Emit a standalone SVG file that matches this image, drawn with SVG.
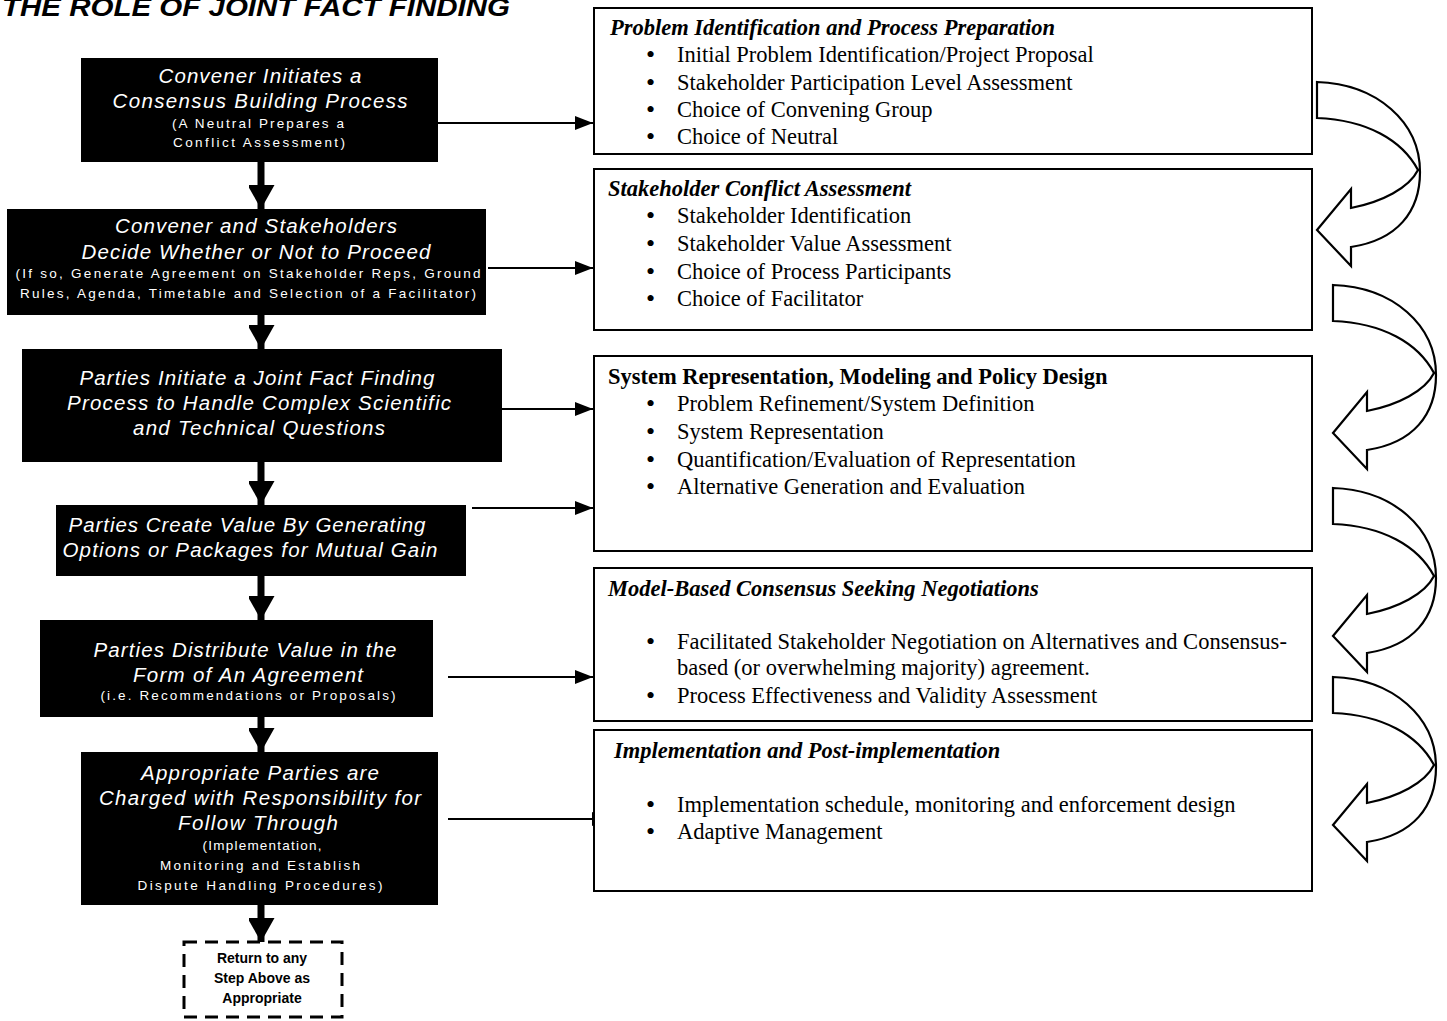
<svg xmlns="http://www.w3.org/2000/svg" width="1447" height="1021" viewBox="0 0 1447 1021">
  <style>
    .step { fill: #000; }
    .st { font-family: "Liberation Sans", Arial, sans-serif; font-style: italic; font-size: 20.5px; fill: #fff; text-anchor: middle; }
    .ss { font-family: "Liberation Sans", Arial, sans-serif; font-size: 13.5px; fill: #fff; text-anchor: middle; }
    .panel { fill: #fff; stroke: #000; stroke-width: 2; }
    .ph { font-family: "Liberation Serif", "Times New Roman", serif; font-weight: bold; font-style: italic; font-size: 22.5px; fill: #000; }
    .phu { font-family: "Liberation Serif", "Times New Roman", serif; font-weight: bold; font-size: 22.5px; fill: #000; }
    .pt { font-family: "Liberation Serif", "Times New Roman", serif; font-size: 22.5px; fill: #000; }
    .bul { font-family: "Liberation Serif", "Times New Roman", serif; font-size: 26px; fill: #000; }
    .link { stroke: #000; stroke-width: 2; fill: none; }
    .down { stroke: #000; stroke-width: 7; fill: none; }
    .uturn { fill: #fff; stroke: #000; stroke-width: 2.2; stroke-linejoin: miter; }
    .ret { font-family: "Liberation Sans", Arial, sans-serif; font-weight: bold; font-size: 14px; fill: #000; text-anchor: middle; }
  </style>
  <defs>
    <marker id="side" markerUnits="userSpaceOnUse" markerWidth="20" markerHeight="14" refX="18" refY="7" orient="auto">
      <path d="M0,0 L18,7 L0,14 Z" fill="#000"/>
    </marker>
    <marker id="drop" markerUnits="userSpaceOnUse" markerWidth="28" markerHeight="26" refX="24" refY="13.5" orient="auto">
      <path d="M0,0 L24,13.5 L0,27 Z" fill="#000"/>
    </marker>
    <!-- curved block arrow: tail at upper left, head pointing left below -->
    <path id="turn" d="M0,0 C60,2 103,40 103,90 C103,130 80,158 34,165 L34,184 L0,148 L34,107 L34,126 C65,120 92,106 101,88 C85,58 50,38 0,36 Z"/>
  </defs>

  <rect width="1447" height="1021" fill="#fff"/>

  <text x="2" y="16" font-family="Liberation Sans, Arial, sans-serif" font-weight="bold" font-style="italic" font-size="26" textLength="508" lengthAdjust="spacingAndGlyphs">THE ROLE OF JOINT FACT FINDING</text>

  <!-- connectors -->
  <g id="connectors">
    <line class="down" x1="261" y1="162" x2="261" y2="209" marker-end="url(#drop)"/>
    <line class="down" x1="261" y1="315" x2="261" y2="349" marker-end="url(#drop)"/>
    <line class="down" x1="261" y1="462" x2="261" y2="505" marker-end="url(#drop)"/>
    <line class="down" x1="261" y1="576" x2="261" y2="620" marker-end="url(#drop)"/>
    <line class="down" x1="261" y1="717" x2="261" y2="752" marker-end="url(#drop)"/>
    <line class="down" x1="261" y1="905" x2="261" y2="942" marker-end="url(#drop)"/>

    <line class="link" x1="438" y1="123" x2="593" y2="123" marker-end="url(#side)"/>
    <line class="link" x1="488" y1="268" x2="593" y2="268" marker-end="url(#side)"/>
    <line class="link" x1="502" y1="409" x2="593" y2="409" marker-end="url(#side)"/>
    <line class="link" x1="472" y1="508" x2="593" y2="508" marker-end="url(#side)"/>
    <line class="link" x1="448" y1="677" x2="593" y2="677" marker-end="url(#side)"/>
    <line class="link" x1="448" y1="819" x2="610" y2="819" marker-end="url(#side)"/>

    <use href="#turn" class="uturn" transform="translate(1317,82)"/>
    <use href="#turn" class="uturn" transform="translate(1333,285)"/>
    <use href="#turn" class="uturn" transform="translate(1333,488)"/>
    <use href="#turn" class="uturn" transform="translate(1333,677)"/>
  </g>

  <!-- process steps -->
  <g id="step-convene">
    <rect class="step" x="81" y="58" width="357" height="104"/>
    <text class="st" x="260" y="83" textLength="203">Convener Initiates a</text>
    <text class="st" x="260" y="108" textLength="295">Consensus Building Process</text>
    <text class="ss" x="258" y="128" textLength="172">(A Neutral Prepares a</text>
    <text class="ss" x="259" y="147" textLength="172">Conflict Assessment)</text>
  </g>

  <g id="step-decide">
    <rect class="step" x="7" y="209" width="479" height="106"/>
    <text class="st" x="256" y="233" textLength="282">Convener and Stakeholders</text>
    <text class="st" x="256" y="259" textLength="349">Decide Whether or Not to Proceed</text>
    <text class="ss" x="248" y="278" textLength="465">(If so, Generate Agreement on Stakeholder Reps, Ground</text>
    <text class="ss" x="248" y="298" textLength="456">Rules, Agenda, Timetable and Selection of a Facilitator)</text>
  </g>

  <g id="step-jff">
    <rect class="step" x="22" y="349" width="480" height="113"/>
    <text class="st" x="257" y="385" textLength="355">Parties Initiate a Joint Fact Finding</text>
    <text class="st" x="259" y="410" textLength="384">Process to Handle Complex Scientific</text>
    <text class="st" x="259" y="435" textLength="252">and Technical Questions</text>
  </g>

  <g id="step-create">
    <rect class="step" x="56" y="505" width="410" height="71"/>
    <text class="st" x="247" y="532" textLength="357">Parties Create Value By Generating</text>
    <text class="st" x="250" y="557" textLength="375">Options or Packages for Mutual Gain</text>
  </g>

  <g id="step-distribute">
    <rect class="step" x="40" y="620" width="393" height="97"/>
    <text class="st" x="245" y="657" textLength="303">Parties Distribute Value in the</text>
    <text class="st" x="248" y="682" textLength="230">Form of An Agreement</text>
    <text class="ss" x="248" y="700" textLength="295">(i.e. Recommendations or Proposals)</text>
  </g>

  <g id="step-follow">
    <rect class="step" x="81" y="752" width="357" height="153"/>
    <text class="st" x="260" y="780" textLength="238">Appropriate Parties are</text>
    <text class="st" x="260" y="805" textLength="322">Charged with Responsibility for</text>
    <text class="st" x="258" y="830" textLength="160">Follow Through</text>
    <text class="ss" x="262" y="850" textLength="119">(Implementation,</text>
    <text class="ss" x="260" y="870" textLength="200">Monitoring and Establish</text>
    <text class="ss" x="260" y="890" textLength="245">Dispute Handling Procedures)</text>
  </g>

  <g id="step-return">
    <rect x="184" y="942" width="158" height="75" fill="#fff" stroke="#000" stroke-width="3" stroke-dasharray="13,8"/>
    <text class="ret" x="262" y="963">Return to any</text>
    <text class="ret" x="262" y="983">Step Above as</text>
    <text class="ret" x="262" y="1003">Appropriate</text>
  </g>

  <!-- activity panels -->
  <g id="panel-preparation">
    <rect class="panel" x="594" y="8" width="718" height="146"/>
    <text class="ph" x="610" y="35">Problem Identification and Process Preparation</text>
    <text class="bul" x="646" y="63">•</text><text class="pt" x="677" y="62">Initial Problem Identification/Project Proposal</text>
    <text class="bul" x="646" y="91">•</text><text class="pt" x="677" y="90">Stakeholder Participation Level Assessment</text>
    <text class="bul" x="646" y="118">•</text><text class="pt" x="677" y="117">Choice of Convening Group</text>
    <text class="bul" x="646" y="145">•</text><text class="pt" x="677" y="144">Choice of Neutral</text>
  </g>

  <g id="panel-assessment">
    <rect class="panel" x="594" y="169" width="718" height="161"/>
    <text class="ph" x="608" y="196">Stakeholder Conflict Assessment</text>
    <text class="bul" x="646" y="224">•</text><text class="pt" x="677" y="223">Stakeholder Identification</text>
    <text class="bul" x="646" y="252">•</text><text class="pt" x="677" y="251">Stakeholder Value Assessment</text>
    <text class="bul" x="646" y="280">•</text><text class="pt" x="677" y="279">Choice of Process Participants</text>
    <text class="bul" x="646" y="307">•</text><text class="pt" x="677" y="306">Choice of Facilitator</text>
  </g>

  <g id="panel-modeling">
    <rect class="panel" x="594" y="356" width="718" height="195"/>
    <text class="phu" x="608" y="384">System Representation, Modeling and Policy Design</text>
    <text class="bul" x="646" y="412">•</text><text class="pt" x="677" y="411">Problem Refinement/System Definition</text>
    <text class="bul" x="646" y="440">•</text><text class="pt" x="677" y="439">System Representation</text>
    <text class="bul" x="646" y="468">•</text><text class="pt" x="677" y="467">Quantification/Evaluation of Representation</text>
    <text class="bul" x="646" y="495">•</text><text class="pt" x="677" y="494">Alternative Generation and Evaluation</text>
  </g>

  <g id="panel-negotiation">
    <rect class="panel" x="594" y="568" width="718" height="153"/>
    <text class="ph" x="608" y="596">Model-Based Consensus Seeking Negotiations</text>
    <text class="bul" x="646" y="650">•</text><text class="pt" x="677" y="649">Facilitated Stakeholder Negotiation on Alternatives and Consensus-</text>
    <text class="pt" x="677" y="675">based (or overwhelming majority) agreement.</text>
    <text class="bul" x="646" y="704">•</text><text class="pt" x="677" y="703">Process Effectiveness and Validity Assessment</text>
  </g>

  <g id="panel-implementation">
    <rect class="panel" x="594" y="730" width="718" height="161"/>
    <text class="ph" x="614" y="758">Implementation and Post-implementation</text>
    <text class="bul" x="646" y="813">•</text><text class="pt" x="677" y="812">Implementation schedule, monitoring and enforcement design</text>
    <text class="bul" x="646" y="840">•</text><text class="pt" x="677" y="839">Adaptive Management</text>
  </g>
</svg>
